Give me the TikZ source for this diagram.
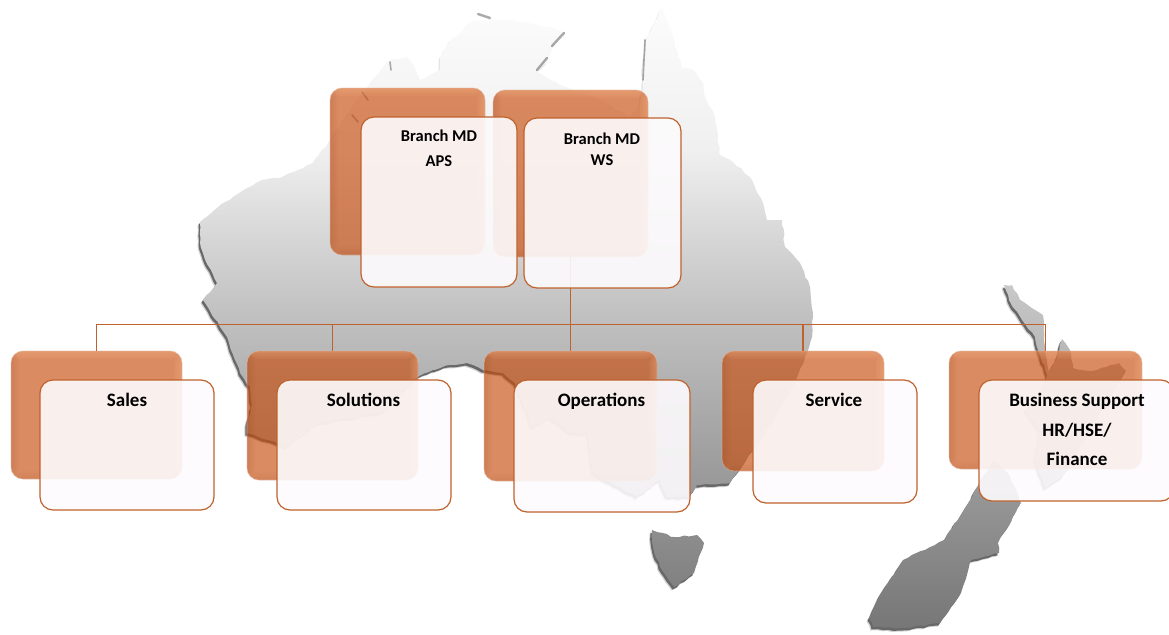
\documentclass[tikz,border=0pt]{standalone}
\usepackage{fontspec}
\setmainfont{Carlito}
\usetikzlibrary{decorations.pathmorphing}
\definecolor{backfill}{RGB}{201,78,14}
\definecolor{rimline}{RGB}{192,98,45}
\definecolor{glowlight}{RGB}{255,190,140}
\definecolor{glowdark}{RGB}{120,60,30}
\definecolor{frontfill}{RGB}{253,251,253}
\newcommand\mapoutline{
  (200,222) -- (217,208) -- (247,188) -- (262,180) -- (280,178) -- (313,163) -- (330,140) -- (350,110) -- (367,87)
  -- (390,60) -- (407,57) -- (414,66) -- (420,80) -- (432,74) -- (440,70) -- (440,57) -- (450,40) -- (463,30)
  -- (470,22) -- (490,19) -- (513,20) -- (547,27) -- (563,32) -- (552,47) -- (547,62) -- (537,72)
  -- (560,85) -- (600,100) -- (630,117) -- (640,105) -- (643,87) -- (643,67) -- (647,37) -- (662,8)
  -- (673,37) -- (682,68) -- (693,70) -- (703,83) -- (705,97) -- (715,117) -- (720,155) -- (733,162) -- (750,177)
  -- (763,203) -- (767,220) -- (782,220) -- (785,247) -- (800,263) -- (810,287) -- (813,317)
  -- (812,337) -- (805,357) -- (795,383) -- (775,417) -- (748,457) -- (737,473) -- (730,483) -- (697,485)
  -- (690,497) -- (667,497) -- (660,480) -- (637,497) -- (593,473) -- (587,433) -- (570,433) -- (550,417) -- (533,427)
  -- (525,408) -- (515,383) -- (503,373) -- (483,370)
  -- (467,363) -- (450,365) -- (433,370) -- (417,377) -- (383,412) -- (317,423) -- (287,447) -- (268,440) -- (247,433)
  -- (247,423) -- (252,405) -- (250,387) -- (240,373) -- (227,337) -- (220,327) -- (203,300) -- (217,283)
  -- (206,262) -- (200,243) -- cycle
  (652,530) -- (674,537) -- (697,535) -- (704,543) -- (694,573) -- (674,587) -- (660,567) -- (653,547) -- cycle
  (1004,285) -- (1012,285) -- (1020,300) -- (1043,315) -- (1045,350) -- (1049,372) -- (1056,360)
  -- (1062,339) -- (1070,350) -- (1073,368) -- (1092,371) -- (1119,363) -- (1126,371) -- (1112,393) -- (1090,430)
  -- (1063,476) -- (1045,488) -- (1035,460) -- (1040,430) -- (1025,410) -- (1040,395) -- (1047,375) -- (1038,350)
  -- (1035,337) -- (1025,324) -- (1011,304) -- cycle
  (994,460) -- (1008,473) -- (1021,503) -- (998,543) -- (999,553) -- (971,560) -- (961,593) -- (940,623)
  -- (905,628) -- (873,627) -- (869,618) -- (883,590) -- (903,560) -- (944,540) -- (964,510) -- (977,487) -- cycle
}
\newcommand\mkbox[6]{%
  \pgfmathsetmacro\bxw{#5-#3}\pgfmathsetmacro\bxh{#6-#4}%
  \pgfmathsetmacro\bxc{(#3+#5)/2}\pgfmathsetmacro\byc{(#4+#6)/2}%
  \node[#1,minimum width=\bxw pt,minimum height=\bxh pt] (#2) at (\bxc,\byc) {};}
\tikzset{
  backbox/.style={rectangle,rounded corners=12pt,inner sep=0pt,fill=backfill,fill opacity=.65,
    draw=rimline!45!white,draw opacity=.6,line width=.7pt,
    path picture={
      \foreach \i in {2,4,6,8}{
        \fill[glowlight,opacity=.09] (path picture bounding box.north west) rectangle
          ([yshift=-\i pt]path picture bounding box.north east);
        \fill[glowlight,opacity=.08] (path picture bounding box.north east) rectangle
          ([xshift=-\i pt]path picture bounding box.south east);
        \fill[glowdark,opacity=.03] (path picture bounding box.north west) rectangle
          ([xshift=\i pt]path picture bounding box.south west);
        \fill[glowdark,opacity=.02] (path picture bounding box.south west) rectangle
          ([yshift=\i pt]path picture bounding box.south east);
      }}},
  frontbox/.style={rectangle,rounded corners=13pt,inner sep=0pt,fill=frontfill,fill opacity=.9,
    draw=rimline,line width=1.2pt},
  link/.style={draw=rimline,line width=1.3pt},
  lbl/.style={inner sep=0pt,align=center,text=black,font=\fontsize{19}{20}\selectfont\bfseries},
  toplbl/.style={lbl,font=\fontsize{16.5}{20}\selectfont\bfseries},
  speck/.style={line width=2.4pt,draw=black!60,opacity=.55,line cap=round},
  rough/.style={decorate,decoration={random steps,segment length=5pt,amplitude=.8pt}}
}
\begin{document}
\begin{tikzpicture}[x=1pt,y=-1pt]
\useasboundingbox (0,0) rectangle (1169,634);
\fill[white] (0,0) rectangle (1169,634);
% map shadow: faint in the north, stronger in the south
\begin{scope}
  \clip (0,0) rectangle (1169,205);
  \begin{scope}[shift={(-1.5,2.5)}]
    \pgfmathsetseed{7}
    \fill[black,opacity=.10,rough] \mapoutline;
  \end{scope}
\end{scope}
\begin{scope}
  \clip (0,205) rectangle (1169,634);
  \begin{scope}[shift={(-2.5,3.5)}]
    \pgfmathsetseed{7}
    \fill[black,opacity=.18,rough] \mapoutline;
  \end{scope}
  \begin{scope}[shift={(-1.5,2.5)}]
    \pgfmathsetseed{7}
    \fill[black,opacity=.50,rough] \mapoutline;
  \end{scope}
\end{scope}
% map body
\begin{scope}
  \pgfmathsetseed{7}
  \clip[rough] \mapoutline;
  \shade[top color=black!1,bottom color=black!6] (0,0) rectangle (1169,150.5);
  \shade[top color=black!6,bottom color=black!23] (0,150) rectangle (1169,300.5);
  \shade[top color=black!23,bottom color=black!54] (0,300) rectangle (1169,634);
\end{scope}
% small islands and inlets
\draw[speck] (478,14) -- (490,18);
\draw[speck] (564,33) -- (552,46);
\draw[speck] (547,58) -- (537,70);
\draw[speck,line width=1.6pt] (390,62) -- (391,70);
\draw[speck,line width=1.6pt] (352,115) -- (358,122);
\draw[speck,line width=1.6pt] (362,92) -- (368,100);
\draw[speck,line width=1.6pt] (645,40) -- (643,80);
% back boxes
\mkbox{backbox}{bAPS}{330}{88}{485}{255}
\mkbox{backbox}{bWS}{493}{90}{648}{257}
\mkbox{backbox}{bSales}{11}{351}{182}{479}
\mkbox{backbox}{bSol}{247}{351}{418}{480}
\mkbox{backbox}{bOps}{484}{351}{657}{481}
\mkbox{backbox}{bSrv}{722}{351}{884}{471}
\mkbox{backbox}{bBS}{949}{351}{1142}{469}
% connectors
\coordinate (bar) at (570.5,324.5);
\draw[link] (bWS.south) -- (bOps.north);
\draw[link] (bSales.north) |- (bar);
\draw[link] (bBS.north) |- (bar);
\draw[link] (bSol.north) -- (bSol.north |- bar);
\draw[link] (bSrv.north) -- (bSrv.north |- bar);
% front boxes
\mkbox{frontbox}{fAPS}{361}{117}{517}{287}
\mkbox{frontbox}{fWS}{524}{118}{681}{288}
\mkbox{frontbox}{fSales}{40}{380}{214}{510}
\mkbox{frontbox}{fSol}{277}{380}{451}{510}
\mkbox{frontbox}{fOps}{514}{380}{690}{512}
\mkbox{frontbox}{fSrv}{753}{380}{917}{503}
\mkbox{frontbox}{fBS}{979}{380}{1174}{501}
% labels
\node[toplbl] (tAPS) at (439,148.5) {Branch MD\\[5pt]APS};
\node[toplbl] (tWS) at (602,149.5) {Branch MD\\[1pt]WS};
\node[lbl,anchor=base] (tSales) at (127,406) {Sales};
\node[lbl,anchor=base] (tSol) at (363.5,406) {Solutions};
\node[lbl,anchor=base] (tOps) at (601.5,406) {Operations};
\node[lbl,anchor=base] (tSrv) at (834,406) {Service};
\node[lbl] (tBS) at (1077,429.5) {Business Support\\[9.5pt]HR/HSE/\\[9.5pt]Finance};
\end{tikzpicture}
\end{document}
